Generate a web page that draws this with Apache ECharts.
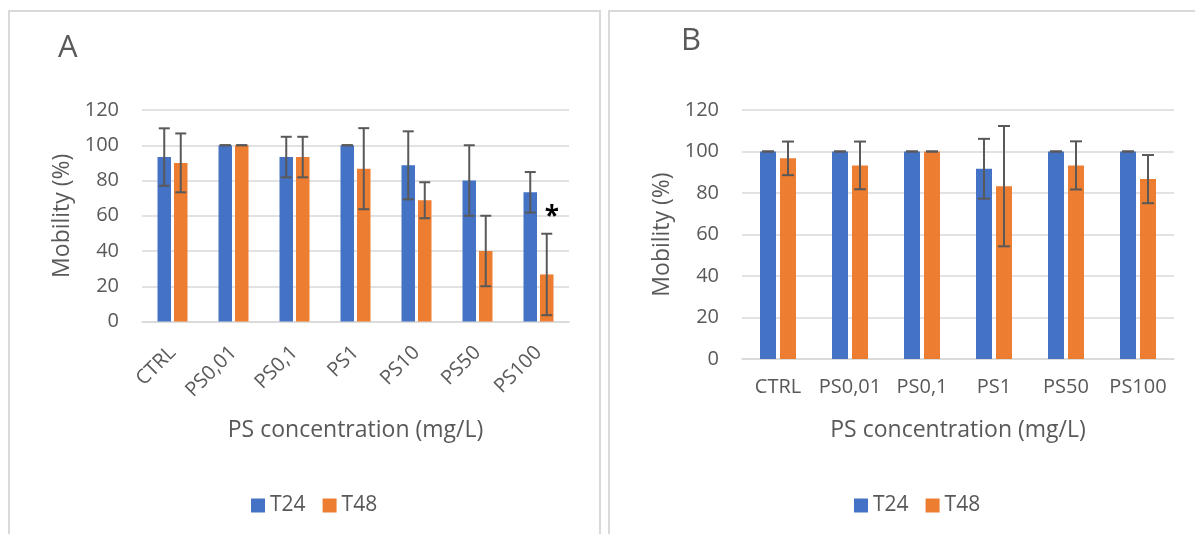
<!DOCTYPE html>
<html>
<head>
<meta charset="utf-8">
<title>Mobility vs PS concentration</title>
<script src="https://cdn.jsdelivr.net/npm/echarts@6/dist/echarts.min.js"></script>
<style>
  html, body { margin: 0; padding: 0; background: #ffffff; }
  #chart { width: 1195px; height: 534px; }
</style>
</head>
<body>
<div id="chart"></div>
<script>
// ---- Data: panel A ----
const categoriesA = ['CTRL', 'PS0,01', 'PS0,1', 'PS1', 'PS10', 'PS50', 'PS100'];
const t24A = [93.3, 100, 93.3, 100, 88.6, 80, 73.3];
const t48A = [90, 100, 93.3, 86.7, 68.8, 40, 26.7];
const sdT24A = [16.3, 0, 11.5, 0, 19.3, 20, 11.5];
const sdT48A = [16.7, 0, 11.5, 23, 10.2, 20, 23.1];

// ---- Data: panel B ----
const categoriesB = ['CTRL', 'PS0,01', 'PS0,1', 'PS1', 'PS50', 'PS100'];
const t24B = [100, 100, 100, 91.7, 100, 100];
const t48B = [96.7, 93.3, 100, 83.3, 93.3, 86.7];
const sdT24B = [0, 0, 0, 14.4, 0, 0];
const sdT48B = [8.1, 11.5, 0, 29, 11.6, 11.6];

// Significance marker on PS100 / T48 in panel A
const significance = { category: 'PS100', level: 62, text: '*' };

const seriesNames = ['T24', 'T48'];
const panelLetters = ['A', 'B'];
const yTicks = { min: 0, max: 120, interval: 20 };

// ---- Styling ----
const FONT = '"Open Sans", "Noto Sans", sans-serif';
const TEXT = '#595959';
const GRID_LINE = '#D9D9D9';
const BLUE = '#4472C4';
const ORANGE = '#ED7D31';
const ERR = '#595959';

const BAR_A = { width: 13.5, gap: 3 };
const BAR_B = { width: 16, gap: 4 };

function errData(values, sds) {
  return values.map((v, i) => [i, v - sds[i], v + sds[i]]);
}

// Whisker with caps, shifted sideways to sit on its bar within the group
function errorBarRenderer(offsetPx, capHalf) {
  return function (params, api) {
    const idx = api.value(0);
    const lo = api.coord([idx, api.value(1)]);
    const hi = api.coord([idx, api.value(2)]);
    const x = lo[0] + offsetPx;
    const style = { stroke: ERR, lineWidth: 2 };
    return {
      type: 'group',
      children: [
        { type: 'line', shape: { x1: x, y1: hi[1], x2: x, y2: lo[1] }, style: style },
        { type: 'line', shape: { x1: x - capHalf, y1: hi[1], x2: x + capHalf, y2: hi[1] }, style: style },
        { type: 'line', shape: { x1: x - capHalf, y1: lo[1], x2: x + capHalf, y2: lo[1] }, style: style }
      ]
    };
  };
}

function yAxisCfg(gridIndex) {
  return {
    type: 'value',
    gridIndex: gridIndex,
    min: yTicks.min, max: yTicks.max, interval: yTicks.interval,
    name: 'Mobility (%)',
    nameLocation: 'middle',
    nameRotate: 90,
    nameGap: 68,
    nameTextStyle: { fontFamily: FONT, fontSize: 23, color: TEXT },
    axisLine: { show: false },
    axisTick: { show: false },
    axisLabel: { fontFamily: FONT, fontSize: 20, color: TEXT, margin: 23 },
    splitLine: { lineStyle: { color: GRID_LINE, width: 1.5 } }
  };
}

function xAxisCfg(gridIndex, cats, rotate, nameGap, margin) {
  return {
    type: 'category',
    gridIndex: gridIndex,
    data: cats,
    name: 'PS concentration (mg/L)',
    nameLocation: 'middle',
    nameGap: nameGap,
    nameTextStyle: { fontFamily: FONT, fontSize: 23, color: TEXT },
    axisLine: { lineStyle: { color: GRID_LINE, width: 1.5 } },
    axisTick: { show: false },
    axisLabel: { fontFamily: FONT, fontSize: 20, color: TEXT, rotate: rotate, margin: margin, interval: 0 },
    splitLine: { show: false }
  };
}

function barSeries(name, values, axisIndex, color, bar, extra) {
  return Object.assign({
    name: name,
    type: 'bar',
    xAxisIndex: axisIndex,
    yAxisIndex: axisIndex,
    data: values,
    barWidth: bar.width,
    barGap: (bar.gap / bar.width * 100) + '%',
    itemStyle: { color: color },
    z: 2
  }, extra || {});
}

function errSeries(name, values, sds, axisIndex, bar, side, capHalf) {
  const offset = side * (bar.width + bar.gap) / 2;
  return {
    name: name,
    type: 'custom',
    xAxisIndex: axisIndex,
    yAxisIndex: axisIndex,
    data: errData(values, sds),
    encode: { x: 0, y: [1, 2] },
    renderItem: errorBarRenderer(offset, capHalf),
    z: 5,
    silent: true
  };
}

const chart = echarts.init(document.getElementById('chart'), null, { renderer: 'canvas' });

const option = {
  animation: false,
  backgroundColor: '#ffffff',
  textStyle: { fontFamily: FONT },
  graphic: [
    { type: 'rect', shape: { x: 9, y: 11, width: 591, height: 560 }, style: { fill: 'none', stroke: GRID_LINE, lineWidth: 2 }, silent: true },
    { type: 'rect', shape: { x: 609, y: 11, width: 620, height: 560 }, style: { fill: 'none', stroke: GRID_LINE, lineWidth: 2 }, silent: true }
  ],
  title: [
    { text: panelLetters[0], left: 58, top: 33, padding: 0, textStyle: { fontFamily: FONT, fontSize: 31, fontWeight: 'normal', color: TEXT } },
    { text: panelLetters[1], left: 681, top: 26, padding: 0, textStyle: { fontFamily: FONT, fontSize: 31, fontWeight: 'normal', color: TEXT } }
  ],
  legend: [
    { data: seriesNames, left: 246, top: 490, itemWidth: 14, itemHeight: 14, itemGap: 17, icon: 'rect',
      textStyle: { fontFamily: FONT, fontSize: 21, color: TEXT }, selectedMode: false },
    { data: seriesNames, left: 849, top: 490, itemWidth: 14, itemHeight: 14, itemGap: 17, icon: 'rect',
      textStyle: { fontFamily: FONT, fontSize: 21, color: TEXT }, selectedMode: false }
  ],
  grid: [
    { left: 142, top: 110, width: 427, height: 211.5 },
    { left: 742, top: 110, width: 432, height: 249 }
  ],
  xAxis: [
    xAxisCfg(0, categoriesA, 45, 97, 28),
    xAxisCfg(1, categoriesB, 0, 60, 18)
  ],
  yAxis: [yAxisCfg(0), yAxisCfg(1)],
  series: [
    barSeries(seriesNames[0], t24A, 0, BLUE, BAR_A),
    barSeries(seriesNames[1], t48A, 0, ORANGE, BAR_A, {
      markPoint: {
        symbol: 'circle',
        symbolSize: 0,
        data: [{ coord: [significance.category, significance.level] }],
        label: {
          show: true,
          position: 'inside',
          formatter: significance.text,
          fontFamily: FONT,
          fontSize: 26,
          fontWeight: 'bold',
          color: '#000000',
          offset: [5, 5]
        }
      }
    }),
    errSeries('T24 SD A', t24A, sdT24A, 0, BAR_A, -1, 5.5),
    errSeries('T48 SD A', t48A, sdT48A, 0, BAR_A, 1, 5.5),

    barSeries(seriesNames[0], t24B, 1, BLUE, BAR_B),
    barSeries(seriesNames[1], t48B, 1, ORANGE, BAR_B),
    errSeries('T24 SD B', t24B, sdT24B, 1, BAR_B, -1, 6),
    errSeries('T48 SD B', t48B, sdT48B, 1, BAR_B, 1, 6)
  ]
};

chart.setOption(option);
</script>
</body>
</html>
